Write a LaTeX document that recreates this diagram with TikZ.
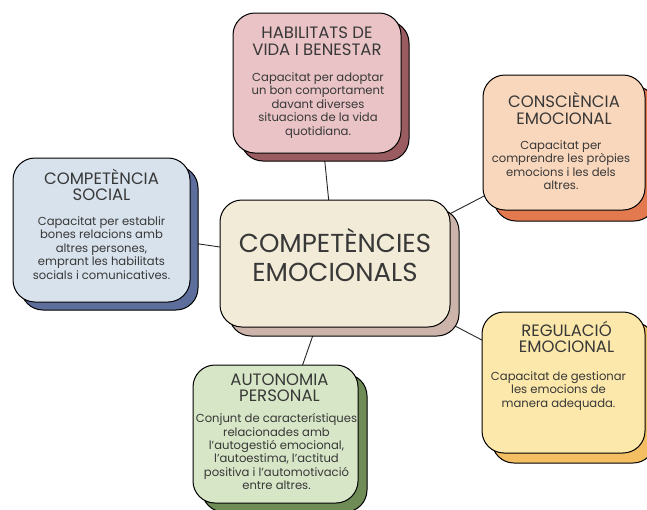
\documentclass[tikz,border=0pt]{standalone}
\usepackage{fontspec}
\setmainfont{Poppins}
\usetikzlibrary{shadows,backgrounds}
\definecolor{txtc}{HTML}{383838}
\definecolor{fA}{HTML}{E9C3C5}\definecolor{sA}{HTML}{9A5C60}
\definecolor{fB}{HTML}{F9D7BC}\definecolor{sB}{HTML}{E2794F}
\definecolor{fC}{HTML}{D8E2EC}\definecolor{sC}{HTML}{5E6E9C}
\definecolor{fM}{HTML}{F1EBD7}\definecolor{sM}{HTML}{CDB4AA}
\definecolor{fD}{HTML}{FCE8AA}\definecolor{sD}{HTML}{F4BE62}
\definecolor{fE}{HTML}{D7E6C6}\definecolor{sE}{HTML}{6F8C57}
\tikzset{
  card/.style n args={5}{draw=black, line width=1pt, rounded corners=22pt,
    fill=#1, minimum width=#3, minimum height=#4, inner sep=0pt,
    general shadow={fill=#2, draw=black, line width=1pt, shadow xshift=#5, shadow yshift=-#5}},
  ttl/.style={align=center, inner sep=0pt, text=txtc, font=\fontsize{16.5}{16.5}\selectfont},
  bdy/.style={align=center, inner sep=0pt, text=txtc, font=\fontsize{11.6}{13.4}\selectfont},
  link/.style={draw=black!85, line width=0.9pt}
}
\begin{document}
\begin{tikzpicture}[x=1pt,y=-1pt]
\useasboundingbox (0,0) rectangle (647,509);
\clip (0,0) rectangle (647,509);

% centre
\node[card={fM}{sM}{230pt}{127pt}{9pt}] (c) at (335,263.5) {};
\node[align=center, inner sep=0pt, text=txtc, font=\fontsize{26}{28.5}\selectfont, anchor=north] (ct) at ([yshift=-29pt]c.north) {COMPETÈNCIES\\EMOCIONALS};

% habilitats
\node[card={fA}{sA}{168pt}{140pt}{8pt}] (b1) at (317,83) {};
\node[ttl, anchor=north] (t1) at ([yshift=-11pt]b1.north) {\vphantom{È}HABILITATS DE\\VIDA I BENESTAR};
\node[bdy, anchor=north] (d1) at ([xshift=1pt,yshift=-60pt]b1.north) {Capacitat per adoptar\\un bon comportament\\davant diverses\\situacions de la vida\\quotidiana.};

% consciencia
\node[card={fB}{sB}{162pt}{135pt}{11pt}] (b2) at (564,142.5) {};
\node[ttl, anchor=north] (t2) at ([yshift=-18pt]b2.north) {\vphantom{È}CONSCIÈNCIA\\EMOCIONAL};
\node[bdy, anchor=north] (d2) at ([xshift=-3pt,yshift=-66pt]b2.north) {Capacitat per\\comprendre les pròpies\\emocions i les dels\\altres.};

% social
\node[card={fC}{sC}{177pt}{144pt}{8pt}] (b3) at (101.5,230) {};
\node[ttl, anchor=north] (t3) at ([yshift=-11pt]b3.north) {\vphantom{È}COMPETÈNCIA\\SOCIAL};
\node[bdy, anchor=north] (d3) at ([yshift=-59pt]b3.north) {Capacitat per establir\\bones relacions amb\\altres persones,\\emprant les habilitats\\socials i comunicatives.};

% regulacio
\node[card={fD}{sD}{163pt}{141pt}{10pt}] (b5) at (563.5,382.5) {};
\node[ttl, anchor=north] (t5) at ([xshift=3pt,yshift=-9pt]b5.north) {\vphantom{È}REGULACIÓ\\EMOCIONAL};
\node[bdy, anchor=north] (d5) at ([xshift=-5pt,yshift=-60pt]b5.north) {Capacitat de gestionar\\les emocions de\\manera adequada.};

% autonomia
\node[card={fE}{sE}{165pt}{138pt}{9pt}] (b6) at (275.5,434) {};
\node[ttl, anchor=north] (t6) at ([xshift=4pt,yshift=-5pt]b6.north) {\vphantom{È}AUTONOMIA\\PERSONAL};
\node[bdy, anchor=north] (d6) at ([xshift=1pt,yshift=-49pt]b6.north) {Conjunt de característiques\\relacionades amb\\l’autogestió emocional,\\l’autoestima, l’actitud\\positiva i l’automotivació\\entre altres.};

\begin{scope}[on background layer]
\fill[white] (0,0) rectangle (647,509);
\draw[link] (c.center) -- (b1.center);
\draw[link] ([yshift=-10pt]c.center) -- ([yshift=-12pt]b2.center);
\draw[link] (c.center) -- (b3.center);
\draw[link] (c.center) -- (b5.center);
\draw[link] ([xshift=3pt]c.center) -- ([xshift=3pt]b6.center);
\end{scope}
\end{tikzpicture}
\end{document}
